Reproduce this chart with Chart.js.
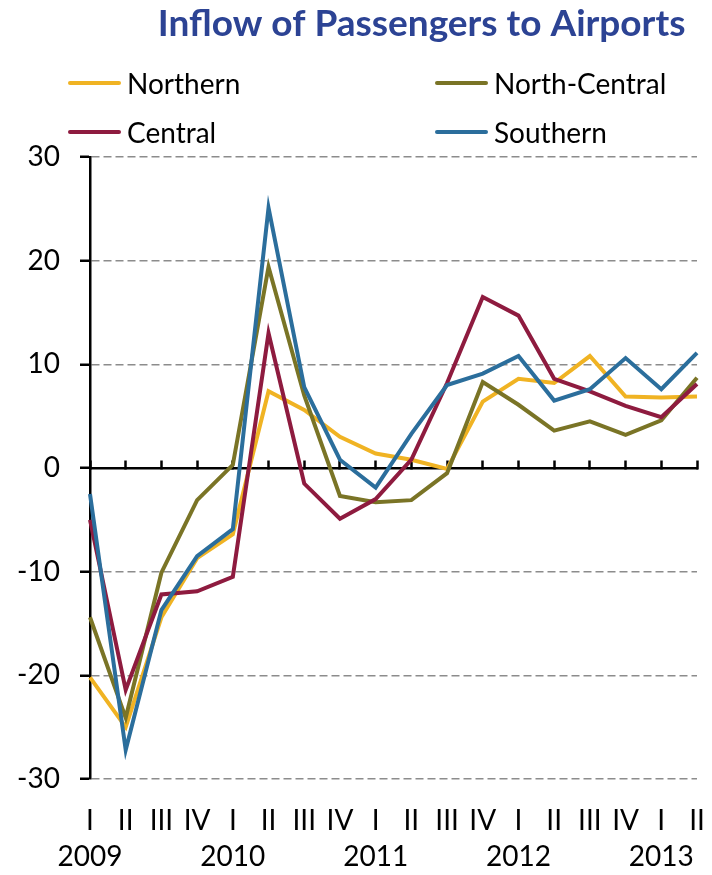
<!DOCTYPE html>
<html>
<head>
<meta charset="utf-8">
<script src="https://cdn.jsdelivr.net/npm/chart.js@4/dist/chart.umd.min.js"></script>
<style>
  html, body { margin: 0; padding: 0; background: #ffffff; }
  #wrap { position: relative; width: 712px; height: 875px; }
  #legend { position: absolute; left: 0; top: 0; width: 712px; height: 0; }
  .lg-item { position: absolute; height: 40px; display: flex; align-items: center; white-space: nowrap; }
  .lg-line { display: inline-block; width: 53px; height: 4px; border-radius: 2px; }
  .lg-text { margin-left: 6px; font-family: Lato, "Open Sans", sans-serif; font-size: 28px; color: #000; line-height: 40px; }
</style>
</head>
<body>
<div id="wrap">
  <canvas id="c" width="712" height="875"></canvas>
  <div id="legend"></div>
</div>
<script>
// ---- data ----
const quarters = ['I','II','III','IV','I','II','III','IV','I','II','III','IV','I','II','III','IV','I','II'];
const years = ['2009','2010','2011','2012','2013'];
const seriesNames = ['Northern','North-Central','Central','Southern'];
const northern     = [-20.2, -25.0, -14.4, -8.7, -6.4, 7.4, 5.6, 3.0, 1.4, 0.8, -0.1, 6.4, 8.6, 8.2, 10.8, 6.9, 6.8, 6.9];
const northCentral = [-14.4, -24.1, -10.1, -3.1, 0.3, 19.4, 7.0, -2.7, -3.3, -3.1, -0.5, 8.3, 6.1, 3.6, 4.5, 3.2, 4.6, 8.7];
const central      = [-5.0, -21.4, -12.2, -11.9, -10.5, 13.0, -1.5, -4.9, -3.0, 0.8, 8.2, 16.5, 14.7, 8.6, 7.4, 6.0, 4.9, 8.1];
const southern     = [-2.5, -27.2, -13.7, -8.5, -5.9, 25.1, 7.8, 0.8, -1.9, 3.3, 8.0, 9.1, 10.8, 6.5, 7.6, 10.6, 7.6, 11.1];
const yTicks = [-30, -20, -10, 0, 10, 20, 30];
const titleText = 'Inflow of Passengers to Airports';

// ---- styles ----
const colors = ['#F0B323', '#7A7426', '#8E1B3F', '#2B6E9C'];
const FONT = 'Lato, "Open Sans", sans-serif';

// build multi-line category labels: quarter + year under each "I"
let yearIdx = 0;
const labels = quarters.map(q => (q === 'I') ? [q, years[yearIdx++]] : [q]);
const seriesValues = [northern, northCentral, central, southern];

const datasets = seriesNames.map((name, i) => ({
  label: name,
  data: seriesValues[i],
  borderColor: colors[i],
  backgroundColor: colors[i],
  borderWidth: 4,
  pointRadius: 0,
  pointHoverRadius: 0,
  tension: 0,
  fill: false,
  order: seriesNames.length - 1 - i
}));

const legendCols = [68, 435];
const legendRows = [82.5, 131.5];
const htmlLegend = {
  id: 'htmlLegend',
  afterUpdate(chart) {
    const box = document.getElementById('legend');
    box.innerHTML = '';
    const items = chart.options.plugins.legend.labels.generateLabels(chart);
    items.sort((a, b) => a.datasetIndex - b.datasetIndex);
    items.forEach((it, k) => {
      const d = document.createElement('div');
      d.className = 'lg-item';
      d.style.left = legendCols[k % 2] + 'px';
      d.style.top = (legendRows[Math.floor(k / 2)] - 20) + 'px';
      const ln = document.createElement('span');
      ln.className = 'lg-line';
      ln.style.background = chart.data.datasets[it.datasetIndex].borderColor;
      const tx = document.createElement('span');
      tx.className = 'lg-text';
      tx.textContent = it.text;
      d.appendChild(ln);
      d.appendChild(tx);
      box.appendChild(d);
    });
  }
};

new Chart(document.getElementById('c'), {
  type: 'line',
  data: { labels, datasets },
  options: {
    responsive: false,
    animation: false,
    devicePixelRatio: 1,
    layout: { padding: { left: 0, right: 15, top: 0, bottom: 0 } },
    plugins: {
      legend: { display: false },
      tooltip: { enabled: false },
      title: {
        display: true,
        text: titleText + '\u2009\u2009\u200A',
        align: 'end',
        color: '#2C4394',
        font: { family: FONT, size: 37, weight: 'bold', lineHeight: 1.2 },
        padding: { top: 2, bottom: 110.6 }
      }
    },
    scales: {
      x: {
        type: 'category',
        position: 'bottom',
        offset: false,
        grid: { display: false, drawTicks: false },
        border: { display: false },
        ticks: {
          autoSkip: false,
          maxRotation: 0,
          minRotation: 0,
          padding: 24,
          color: '#000',
          font: { family: FONT, size: 28, lineHeight: '36px' }
        },
        afterFit(s) { s.height = 96; s.paddingLeft = 0; s.paddingRight = 0; }
      },
      x0: {
        type: 'category',
        labels: labels,
        position: { y: 0 },
        offset: false,
        grid: {
          display: true,
          drawOnChartArea: false,
          drawTicks: true,
          tickLength: -9,
          tickColor: '#000',
          tickWidth: 2.5,
          offset: false
        },
        border: { display: true, color: '#000', width: 2.5 },
        ticks: { display: false },
        afterFit(s) { s.height = 0; s.paddingLeft = 0; s.paddingRight = 0; }
      },
      y: {
        type: 'linear',
        position: 'left',
        min: -30,
        max: 30,
        afterBuildTicks(s) { s.ticks = yTicks.map(v => ({ value: v })); },
        afterFit(s) { s.width = 90; },
        grid: {
          display: true,
          drawOnChartArea: true,
          drawTicks: true,
          tickLength: 10,
          tickColor: '#000',
          tickWidth: 2.5,
          lineWidth: 1.5,
          color: ctx => (ctx.tick && ctx.tick.value === 0) ? 'rgba(0,0,0,0)' : '#8C8C8C'
        },
        border: { display: true, color: '#000', width: 2.5, dash: [8, 4] },
        ticks: {
          padding: 20,
          color: '#000',
          font: { family: FONT, size: 28 },
          callback: v => String(v)
        }
      }
    }
  },
  plugins: [htmlLegend]
});
</script>
</body>
</html>
